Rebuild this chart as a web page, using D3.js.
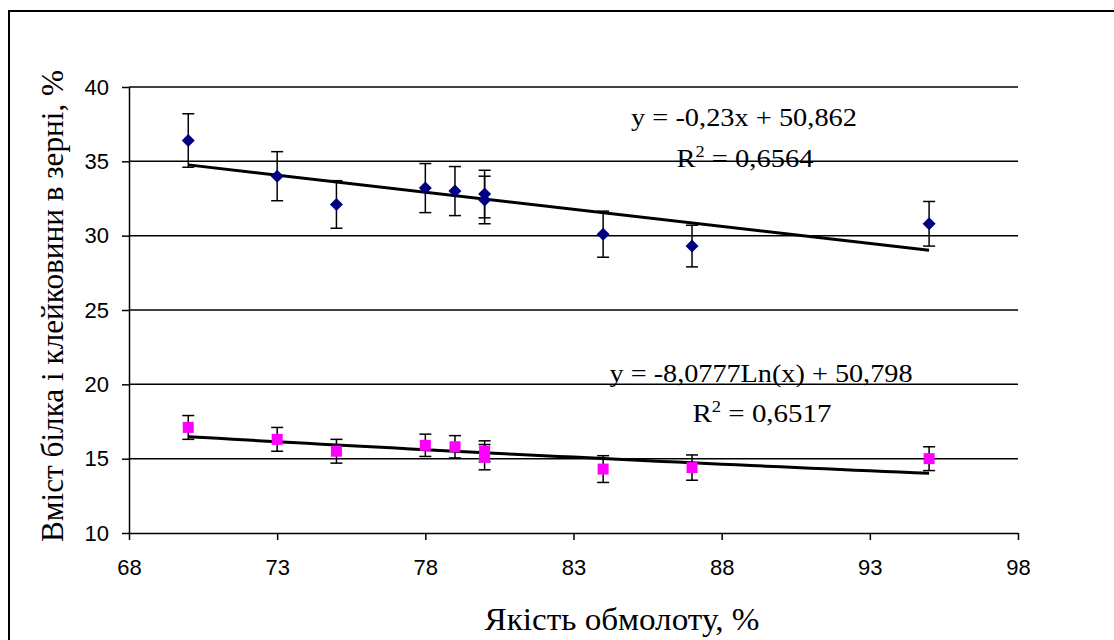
<!DOCTYPE html>
<html>
<head>
<meta charset="utf-8">
<script src="https://cdn.jsdelivr.net/npm/d3@7"></script>
<style>
  body { margin: 0; background: #fff; }
  .tick text { font-family: "Liberation Sans", Arial, sans-serif; font-size: 22px; fill: #000; }
</style>
</head>
<body>
<div id="chart"></div>
<script>
// Якість обмолоту, % (x values)
var xVals = [70, 73, 75, 78, 79, 80, 80, 84, 87, 95];
// upper series (diamonds) and its error bars
var upperVals = [36.4, 34.0, 32.1, 33.2, 33.0, 32.8, 32.4, 30.1, 29.3, 30.8];
var upperErr = [1.8, 1.65, 1.6, 1.65, 1.65, 1.6, 1.6, 1.55, 1.4, 1.5];
// lower series (squares) and its error bars
var lowerVals = [17.1, 16.3, 15.5, 15.9, 15.8, 15.5, 15.1, 14.3, 14.4, 15.0];
var lowerErr = [0.8, 0.8, 0.8, 0.75, 0.75, 0.7, 0.85, 0.9, 0.85, 0.8];
// trendline coefficients, as printed on the chart
var linTrend = { a: -0.23, b: 50.862 };
var logTrend = { a: -8.0777, b: 50.798 };
var xTicks = [68, 73, 78, 83, 88, 93, 98];
var yTicks = [10, 15, 20, 25, 30, 35, 40];

var serif = "'Liberation Serif', 'Times New Roman', serif";

var svgWidth = 1114, svgHeight = 640;
var margin = { top: 87, left: 129, right: 96, bottom: 107 };
var width = svgWidth - margin.left - margin.right;
var height = svgHeight - margin.top - margin.bottom;

var svg = d3.select("#chart").append("svg")
  .attr("width", svgWidth)
  .attr("height", svgHeight);

// outer chart border
svg.append("rect")
  .attr("x", 9).attr("y", 11)
  .attr("width", 1130).attr("height", 660)
  .attr("fill", "none").attr("stroke", "#000").attr("stroke-width", 2);

var g = svg.append("g").attr("transform", `translate(${margin.left}, ${margin.top})`);

var x = d3.scaleLinear().domain([68, 98]).range([0, width]);
var y = d3.scaleLinear().domain([10, 40]).range([height, 0]);

// gridlines
g.selectAll(".grid")
  .data(yTicks.filter(d => d > 10))
  .enter().append("line")
  .attr("x1", 0).attr("x2", width)
  .attr("y1", d => y(d)).attr("y2", d => y(d))
  .attr("stroke", "#000").attr("stroke-width", 1.5);

// axes
var xAxis = g.append("g")
  .attr("transform", `translate(0, ${height})`)
  .call(d3.axisBottom(x).tickValues(xTicks).tickSize(7).tickPadding(19).tickSizeOuter(0));
var yAxis = g.append("g")
  .call(d3.axisLeft(y).tickValues(yTicks).tickSize(7).tickPadding(13).tickSizeOuter(0));
[xAxis, yAxis].forEach(function(a) {
  a.select(".domain").attr("stroke", "#000").attr("stroke-width", 1.5);
  a.selectAll(".tick line").attr("stroke", "#000").attr("stroke-width", 1.5);
});

// trendlines
var linLine = d3.line().x(d => x(d)).y(d => y(linTrend.a * d + linTrend.b));
g.append("path")
  .attr("d", linLine([d3.min(xVals), d3.max(xVals)]))
  .attr("fill", "none").attr("stroke", "#000").attr("stroke-width", 3);

var logX = d3.range(d3.min(xVals), d3.max(xVals) + 0.5, 0.5);
var logLine = d3.line().x(d => x(d)).y(d => y(logTrend.a * Math.log(d) + logTrend.b));
g.append("path")
  .attr("d", logLine(logX))
  .attr("fill", "none").attr("stroke", "#000").attr("stroke-width", 3);

// error bars + markers
function drawSeries(vals, errs, shape, color) {
  var data = xVals.map((xv, i) => ({ x: xv, y: vals[i], e: errs[i] }));
  var eb = g.append("g");
  data.forEach(function(d) {
    var cx = x(d.x);
    eb.append("line").attr("x1", cx).attr("x2", cx)
      .attr("y1", y(d.y + d.e)).attr("y2", y(d.y - d.e));
    [d.y + d.e, d.y - d.e].forEach(function(v) {
      eb.append("line").attr("x1", cx - 6).attr("x2", cx + 6)
        .attr("y1", y(v)).attr("y2", y(v));
    });
  });
  eb.selectAll("line").attr("stroke", "#000").attr("stroke-width", 1.5);

  g.append("g").selectAll("path")
    .data(data).enter().append("path")
    .attr("transform", d => `translate(${x(d.x)}, ${y(d.y)})`)
    .attr("d", shape)
    .attr("fill", color);
}
drawSeries(upperVals, upperErr, "M0,-6.5L6.5,0L0,6.5L-6.5,0Z", "#000080");
drawSeries(lowerVals, lowerErr, "M-5.5,-5.5H5.5V5.5H-5.5Z", "#FF00FF");

// trend equations
function equation(cx, by, txt, len) {
  svg.append("text")
    .attr("x", cx).attr("y", by)
    .attr("font-family", serif).attr("font-size", 25)
    .attr("text-anchor", "middle")
    .attr("textLength", len).attr("lengthAdjust", "spacingAndGlyphs")
    .text(txt);
}
function rsq(cx, by, val, len) {
  var t = svg.append("text")
    .attr("x", cx).attr("y", by)
    .attr("font-family", serif).attr("font-size", 25)
    .attr("text-anchor", "middle")
    .attr("textLength", len).attr("lengthAdjust", "spacingAndGlyphs");
  t.append("tspan").text("R");
  t.append("tspan").attr("dy", -10).attr("font-size", 16).text("2");
  t.append("tspan").attr("dy", 10).text(" = " + val);
}
equation(744, 126, "y = -0,23x + 50,862", 226);
rsq(745, 167, "0,6564", 137);
equation(761, 382, "y = -8,0777Ln(x) + 50,798", 303);
rsq(762, 422, "0,6517", 139);

// axis titles
svg.append("text")
  .attr("x", 622).attr("y", 630)
  .attr("font-family", serif).attr("font-size", 31)
  .attr("text-anchor", "middle")
  .attr("textLength", 275).attr("lengthAdjust", "spacingAndGlyphs")
  .text("Якість обмолоту, %");

svg.append("text")
  .attr("transform", "translate(63, 306) rotate(-90)")
  .attr("font-family", serif).attr("font-size", 31)
  .attr("text-anchor", "middle")
  .attr("textLength", 472).attr("lengthAdjust", "spacingAndGlyphs")
  .text("Вміст білка і клейковини в зерні, %");
</script>
</body>
</html>
